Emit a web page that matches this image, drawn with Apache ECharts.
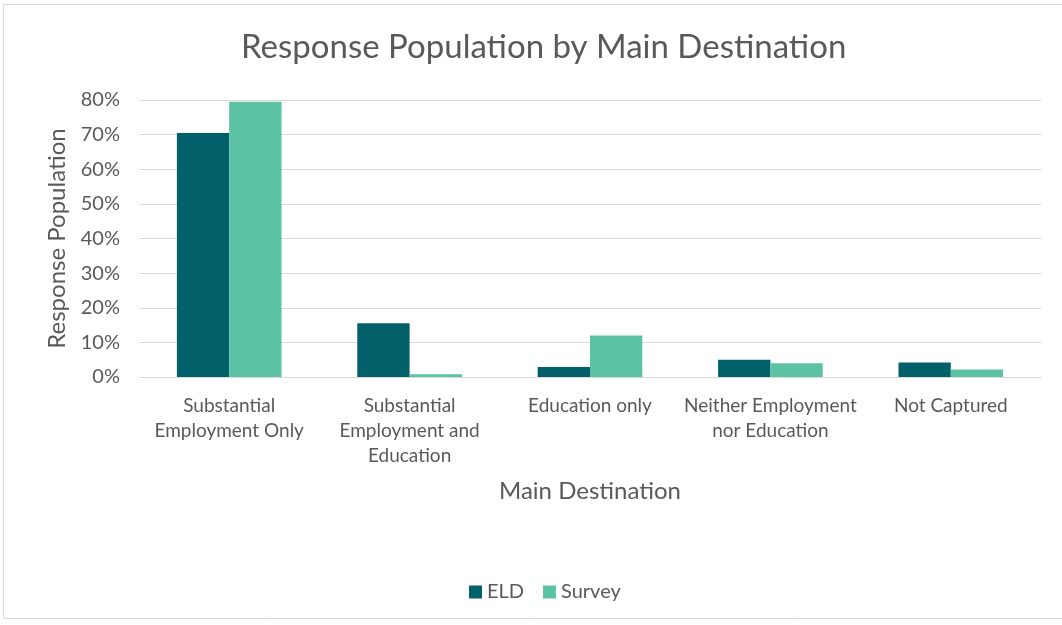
<!DOCTYPE html>
<html>
<head>
<meta charset="utf-8">
<script src="https://cdn.jsdelivr.net/npm/echarts@6/dist/echarts.min.js"></script>
<style>
html,body{margin:0;padding:0;background:#fff;}
#chart{width:1062px;height:625px;}
</style>
</head>
<body>
<div id="chart"></div>
<script>
var categories = [
  'Substantial\nEmployment Only',
  'Substantial\nEmployment and\nEducation',
  'Education only',
  'Neither Employment\nnor Education',
  'Not Captured'
];
var eldValues = [70.5, 15.5, 2.9, 5.0, 4.2];
var surveyValues = [79.5, 0.8, 12.0, 4.0, 2.2];
var yTicks = { min: 0, max: 80, interval: 10 };

var FONT = 'Lato, "Open Sans", sans-serif';
var TXT = '#595959';

var chart = echarts.init(document.getElementById('chart'), null, { renderer: 'canvas' });
chart.setOption({
  animation: false,
  backgroundColor: '#ffffff',
  graphic: [{
    type: 'rect',
    shape: { x: 3.5, y: 4.5, width: 1100, height: 614 },
    style: { fill: 'none', stroke: '#d9d9d9', lineWidth: 1 },
    silent: true
  }],
  title: {
    text: 'Response Population by Main Destination',
    left: 236,
    top: 26,
    textStyle: { fontFamily: FONT, fontSize: 33, fontWeight: 'normal', color: TXT }
  },
  legend: {
    data: ['ELD', 'Survey'],
    left: 464,
    top: 577,
    itemWidth: 13,
    itemHeight: 13,
    itemGap: 19,
    icon: 'rect',
    textStyle: { fontFamily: FONT, fontSize: 20, color: TXT }
  },
  grid: { left: 139, right: 21, top: 100, bottom: 248, containLabel: false },
  xAxis: {
    type: 'category',
    data: categories,
    name: 'Main Destination',
    nameLocation: 'middle',
    nameGap: 102,
    nameTextStyle: { fontFamily: FONT, fontSize: 24, color: TXT },
    axisLine: { show: true, lineStyle: { color: '#d9d9d9', width: 1 } },
    axisTick: { show: false },
    axisLabel: {
      interval: 0,
      margin: 16,
      fontFamily: FONT,
      fontSize: 19,
      lineHeight: 25,
      color: TXT
    }
  },
  yAxis: {
    type: 'value',
    min: yTicks.min,
    max: yTicks.max,
    interval: yTicks.interval,
    name: 'Response Population',
    nameLocation: 'middle',
    nameGap: 70,
    nameTextStyle: { fontFamily: FONT, fontSize: 24, color: TXT },
    axisLine: { show: false },
    axisTick: { show: false },
    axisLabel: {
      formatter: '{value}%',
      margin: 19,
      fontFamily: FONT,
      fontSize: 20,
      color: TXT
    },
    splitLine: { lineStyle: { color: '#d9d9d9', width: 1 } }
  },
  series: [
    {
      name: 'ELD',
      type: 'bar',
      data: eldValues,
      barWidth: '29%',
      barGap: '0%',
      itemStyle: { color: '#02606a' }
    },
    {
      name: 'Survey',
      type: 'bar',
      data: surveyValues,
      barWidth: '29%',
      barGap: '0%',
      itemStyle: { color: '#5bc2a3' }
    }
  ]
});
</script>
</body>
</html>
